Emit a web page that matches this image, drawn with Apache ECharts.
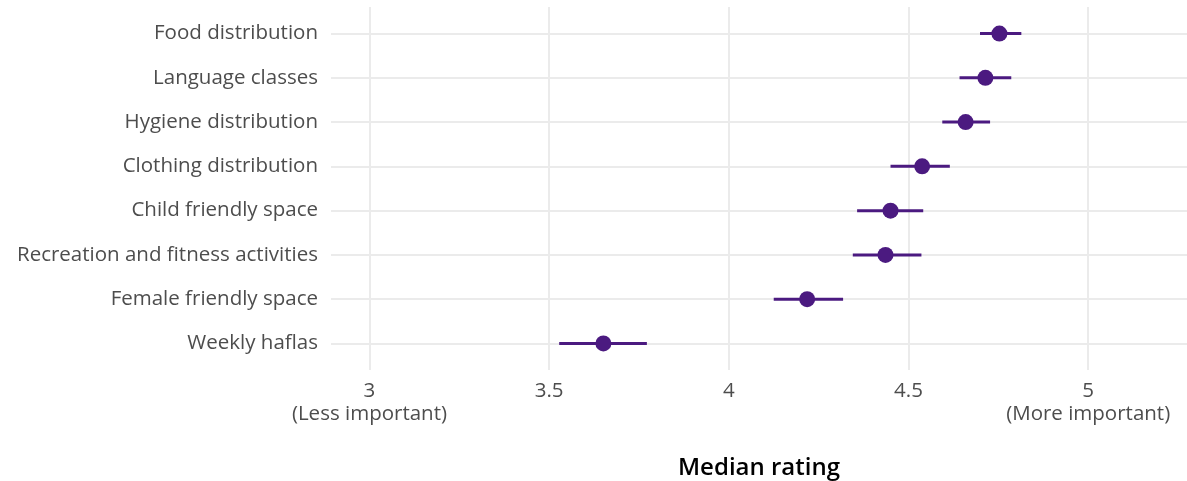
<!DOCTYPE html>
<html><head><meta charset="utf-8">
<script src="https://cdn.jsdelivr.net/npm/echarts@6/dist/echarts.min.js"></script>
<style>html,body{margin:0;padding:0;background:#fff}#c{width:1187px;height:481px}</style>
</head><body><div id="c"></div>
<script>
const categories = ["Food distribution","Language classes","Hygiene distribution","Clothing distribution","Child friendly space","Recreation and fitness activities","Female friendly space","Weekly haflas"];
const medians = [4.753,4.714,4.659,4.538,4.450,4.436,4.218,3.651];
const lower = [4.699,4.642,4.594,4.450,4.357,4.345,4.125,3.528];
const upper = [4.814,4.786,4.727,4.615,4.541,4.536,4.318,3.772];
const xTickValues = [3,3.5,4,4.5,5];
const xTickLabels = ["3\n(Less important)","3.5","4","4.5","5\n(More important)"];

const purple = "#4b1a80";
const textColor = "#4d4d4d";
const font = "Open Sans";

const chart = echarts.init(document.getElementById('c'), null, {renderer:'canvas'});
chart.setOption({
  animation:false,
  grid:{left:331,right:0,top:7,bottom:111,containLabel:false,outerBoundsMode:'none'},
  xAxis:{
    type:'value', min:2.893, max:5.275, minInterval:0.5, maxInterval:0.5,
    name:'Median rating', nameLocation:'middle', nameGap:86,
    nameTextStyle:{color:'#000',fontSize:24,fontFamily:font,fontWeight:600},
    axisLine:{show:false}, axisTick:{show:false},
    axisLabel:{color:textColor,fontSize:20.5,fontFamily:font,lineHeight:23,margin:10,
      showMinLabel:false, showMaxLabel:false,
      formatter:function(v){const i=xTickValues.findIndex(t=>Math.abs(t-v)<1e-6);return i>=0?xTickLabels[i]:'';}},
    splitLine:{show:true,showMinLine:false,showMaxLine:false,lineStyle:{color:'#ebebeb',width:2}}
  },
  yAxis:{
    type:'value', inverse:true, min:-0.6, max:7.6, minInterval:1, maxInterval:1,
    axisLine:{show:false}, axisTick:{show:false},
    axisLabel:{color:textColor,fontSize:20.5,fontFamily:font,margin:13,padding:[3,0,0,0],
      showMinLabel:false, showMaxLabel:false,
      formatter:function(v){const i=Math.round(v);return (Math.abs(i-v)<1e-6&&categories[i])?categories[i]:'';}},
    splitLine:{show:true,showMinLine:false,showMaxLine:false,lineStyle:{color:'#ebebeb',width:2}}
  },
  series:[
    {
      type:'custom',
      data: categories.map((c,i)=>[lower[i],upper[i],i]),
      renderItem:function(params,api){
        const p1=api.coord([api.value(0),api.value(2)]);
        const p2=api.coord([api.value(1),api.value(2)]);
        return {type:'line',shape:{x1:p1[0],y1:p1[1],x2:p2[0],y2:p2[1]},style:{stroke:purple,lineWidth:3}};
      },
      z:2
    },
    {
      type:'scatter',
      data: categories.map((c,i)=>[medians[i],i]),
      symbolSize:16,
      itemStyle:{color:purple,opacity:1},
      z:3
    }
  ]
});
</script>
</body></html>
